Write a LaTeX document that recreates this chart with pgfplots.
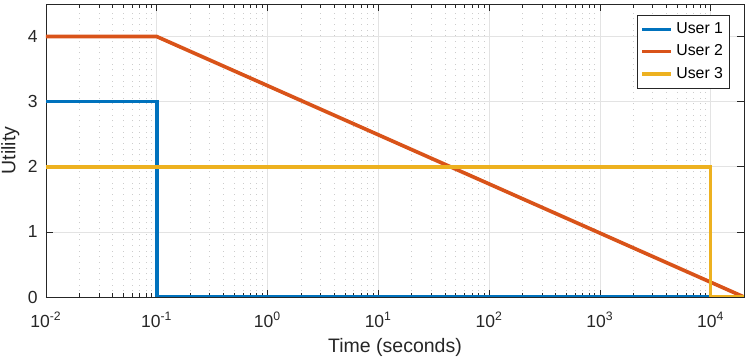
\documentclass[border=0pt]{standalone}
\usepackage{fontspec}
\setmainfont{Liberation Sans}
\usepackage{pgfplots}
\pgfplotsset{compat=1.18}
\definecolor{mblue}{rgb}{0,0.447,0.741}
\definecolor{mred}{rgb}{0.85,0.325,0.098}
\definecolor{myellow}{rgb}{0.929,0.694,0.125}
\definecolor{axgray}{rgb}{0.15,0.15,0.15}
\begin{document}
\begin{tikzpicture}
\begin{axis}[
  xmode=log, log basis x=10,
  scale only axis, width=418.8pt, height=175.8pt,
  xmin=0.01, xmax=2e4, ymin=0, ymax=4.5,
  xtick={0.01,0.1,1,10,100,1000,10000},
  xticklabels={10\textsuperscript{-2},10\textsuperscript{-1},10\textsuperscript{0},10\textsuperscript{1},10\textsuperscript{2},10\textsuperscript{3},10\textsuperscript{4}},
  minor xtick={0.02,0.03,0.04,0.05,0.06,0.07,0.08,0.09,
               0.2,0.3,0.4,0.5,0.6,0.7,0.8,0.9,
               2,3,4,5,6,7,8,9,
               20,30,40,50,60,70,80,90,
               200,300,400,500,600,700,800,900,
               2000,3000,4000,5000,6000,7000,8000,9000},
  ytick={0,1,2,3,4},
  /pgf/number format/assume math mode=true,
  tick align=inside,
  major tick length=4.2pt, minor tick length=2.4pt,
  xmajorgrids, xminorgrids, ymajorgrids,
  major grid style={gray!22, line width=0.4pt},
  minor grid style={gray!40, line width=0.4pt, dash pattern=on 0.6pt off 2.8pt},
  axis line style={axgray, line width=0.4pt},
  every tick/.style={axgray, line width=0.4pt},
  tick label style={font=\fontsize{10.5}{12}\selectfont, text=axgray},
  xticklabel style={yshift=-5.5pt},
  yticklabel style={xshift=-1.5pt},
  xlabel={Time (seconds)},
  ylabel={Utility},
  label style={font=\fontsize{11.7}{13}\selectfont, text=axgray},
  xlabel style={at={(axis description cs:0.5,-0.1707)}, anchor=center},
  ylabel style={at={(axis description cs:-0.0511,0.5)}, anchor=center},
  legend style={at={(axis description cs:0.98,0.9625)}, anchor=north east,
    font=\fontsize{9.5}{11}\selectfont, draw=axgray, fill=white,
    cells={anchor=west}, inner xsep=2pt, inner ysep=2.5pt, row sep=1.2pt},
  legend image code/.code={\draw[#1] (0pt,0pt) -- (17.5pt,0pt);},
  every axis plot/.append style={line width=2.2pt},
]
\addplot[mblue] coordinates {(0.01,3) (0.1,3) (0.1,0) (20000,0)};
\addplot[mred] coordinates {(0.01,4) (0.1,4) (20000,0)};
\addplot[myellow] coordinates {(0.01,2) (10000,2) (10000,0) (20000,0)};
\legend{User 1, User 2, User 3}
\end{axis}
\pgfresetboundingbox
\path[use as bounding box] ([shift={(-27.6pt,-37.8pt)}]current axis.south west) rectangle ([shift={(2.4pt,2.4pt)}]current axis.north east);
\end{tikzpicture}
\end{document}
